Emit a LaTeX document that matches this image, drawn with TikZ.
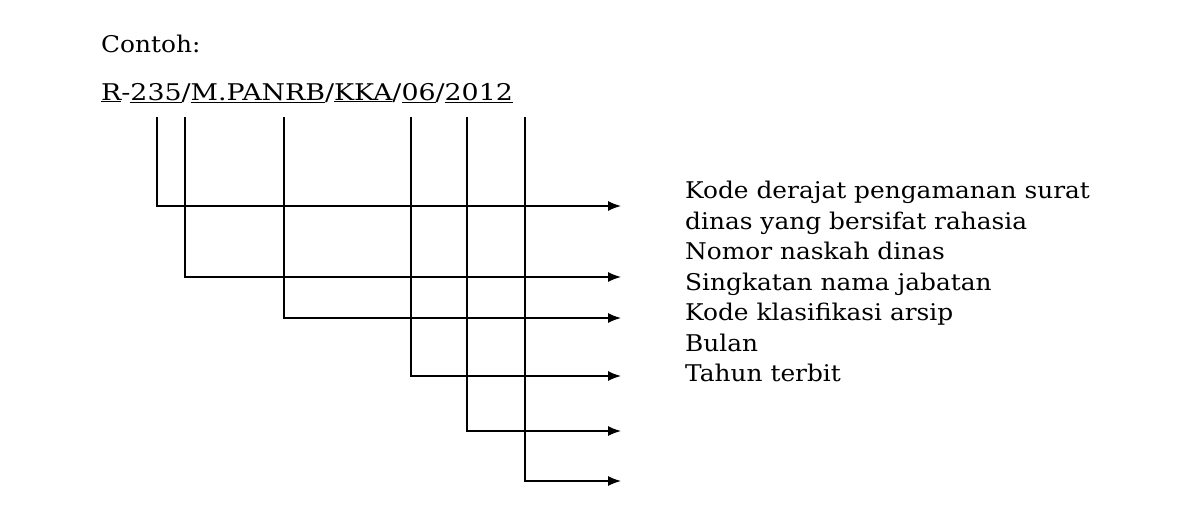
\documentclass[tikz,border=0pt]{standalone}
\usepackage{fontspec}
\setmainfont[FakeStretch=1.08]{DejaVu Serif}
\usetikzlibrary{arrows.meta}
\begin{document}
\begin{tikzpicture}[x=1pt,y=-1pt,
  lbl/.style={anchor=base west,inner sep=0pt,font=\fontsize{23}{30.5}\selectfont},
  conn/.style={line width=1.4pt,-{Latex[length=13pt,width=10pt]}}]
\useasboundingbox (0,0) rectangle (1185,520);
\node[lbl] (contoh) at (101,52) {Contoh:};
\node[lbl] (code) at (101,100) {\scalebox{1.08}[1]{\underline{R}-\underline{235}/\underline{M.PANRB}/\underline{KKA}/\underline{06}/\underline{2012}}};
\foreach \n/\x/\y in {a/157/206,b/185/277,c/284/318,d/411/376,e/467/431,f/525/481}{
  \coordinate (t\n) at (\x,117);
  \coordinate (c\n) at (\x,\y);
  \coordinate (e\n) at (621,\y);
  \draw[conn] (t\n) |- (e\n);
}
\node[lbl,align=left,anchor=north west] (labels) at (685,181) {Kode derajat pengamanan surat\\dinas yang bersifat rahasia\\Nomor naskah dinas\\Singkatan nama jabatan\\Kode klasifikasi arsip\\Bulan\\Tahun terbit};
\end{tikzpicture}
\end{document}
